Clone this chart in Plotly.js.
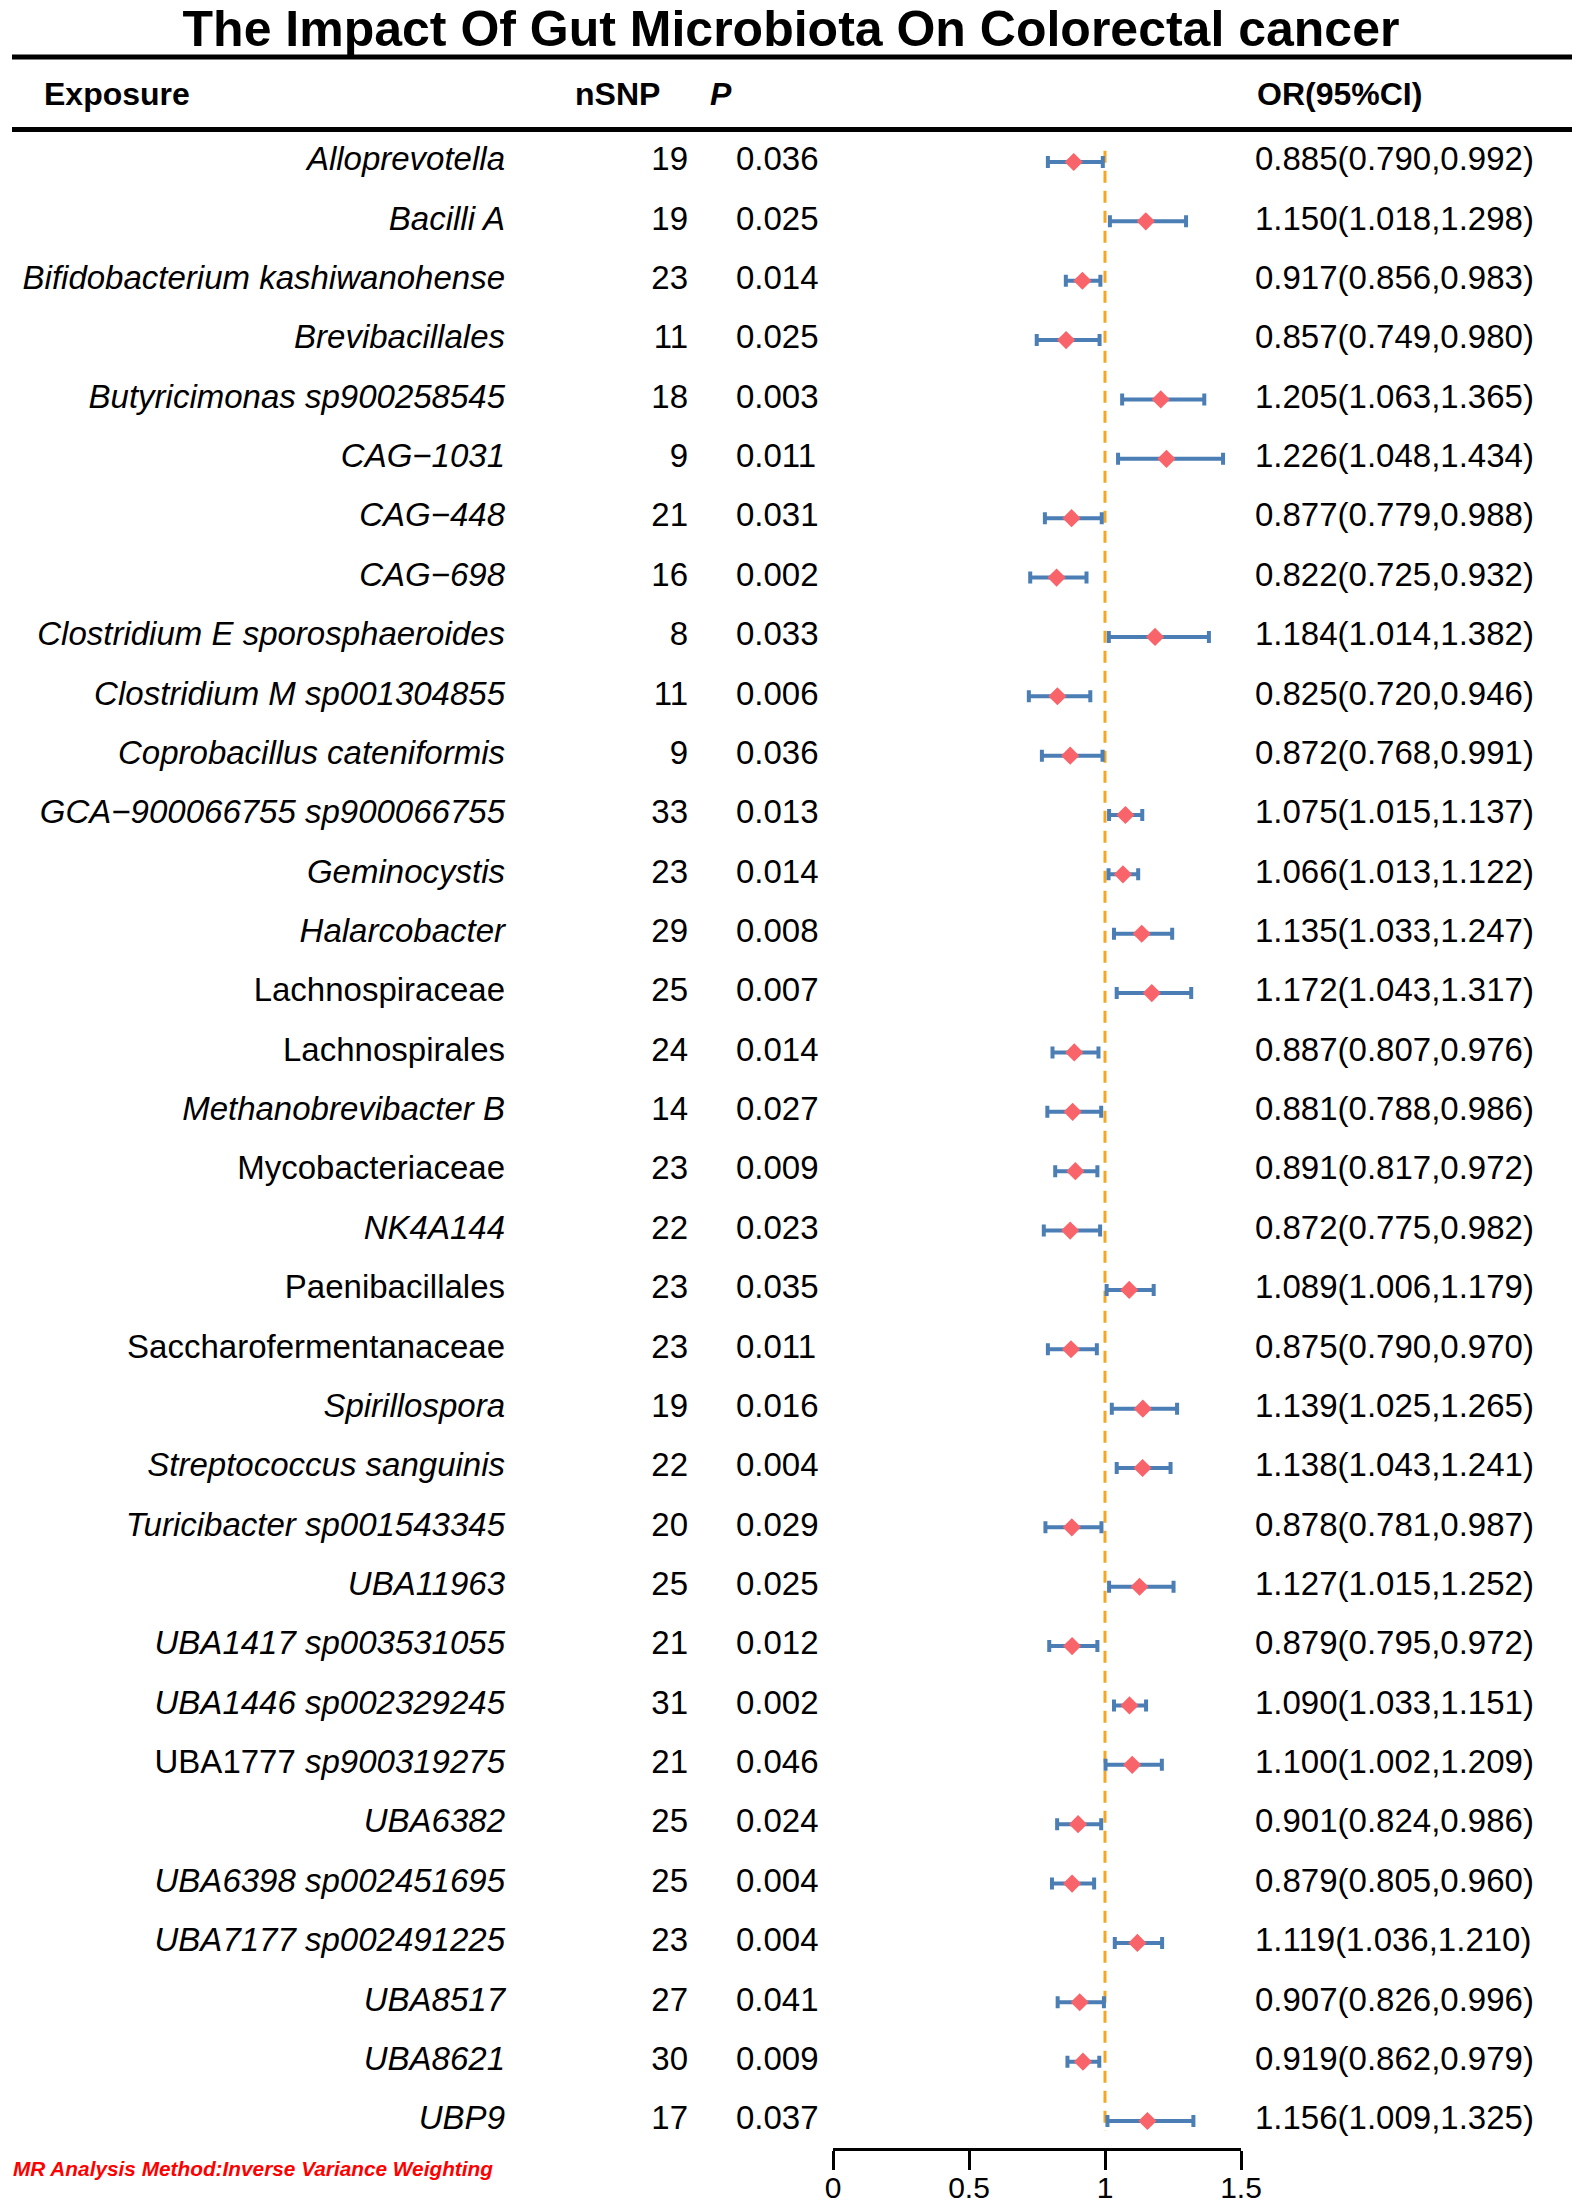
<!DOCTYPE html>
<html>
<head>
<meta charset="utf-8">
<script src="https://cdn.plot.ly/plotly-3.0.1.min.js"></script>
<style>html,body{margin:0;padding:0;background:#fff;}#chart{width:1582px;height:2206px;}</style>
</head>
<body>
<div id="chart"></div>
<script>
// ---------------- data ----------------
const exposures = [
  "Alloprevotella","Bacilli A","Bifidobacterium kashiwanohense","Brevibacillales",
  "Butyricimonas sp900258545","CAG\u22121031","CAG\u2212448","CAG\u2212698",
  "Clostridium E sporosphaeroides","Clostridium M sp001304855","Coprobacillus cateniformis",
  "GCA\u2212900066755 sp900066755","Geminocystis","Halarcobacter","Lachnospiraceae",
  "Lachnospirales","Methanobrevibacter B","Mycobacteriaceae","NK4A144","Paenibacillales",
  "Saccharofermentanaceae","Spirillospora","Streptococcus sanguinis","Turicibacter sp001543345",
  "UBA11963","UBA1417 sp003531055","UBA1446 sp002329245","UBA1777 sp900319275","UBA6382",
  "UBA6398 sp002451695","UBA7177 sp002491225","UBA8517","UBA8621","UBP9"
];
const nsnp = [19,19,23,11,18,9,21,16,8,11,9,33,23,29,25,24,14,23,22,23,23,19,22,20,25,21,31,21,25,25,23,27,30,17];
const pval = [0.036,0.025,0.014,0.025,0.003,0.011,0.031,0.002,0.033,0.006,0.036,0.013,0.014,0.008,0.007,0.014,0.027,0.009,0.023,0.035,0.011,0.016,0.004,0.029,0.025,0.012,0.002,0.046,0.024,0.004,0.004,0.041,0.009,0.037];
const orVal = [0.885,1.150,0.917,0.857,1.205,1.226,0.877,0.822,1.184,0.825,0.872,1.075,1.066,1.135,1.172,0.887,0.881,0.891,0.872,1.089,0.875,1.139,1.138,0.878,1.127,0.879,1.090,1.100,0.901,0.879,1.119,0.907,0.919,1.156];
const ciLow = [0.790,1.018,0.856,0.749,1.063,1.048,0.779,0.725,1.014,0.720,0.768,1.015,1.013,1.033,1.043,0.807,0.788,0.817,0.775,1.006,0.790,1.025,1.043,0.781,1.015,0.795,1.033,1.002,0.824,0.805,1.036,0.826,0.862,1.009];
const ciHigh = [0.992,1.298,0.983,0.980,1.365,1.434,0.988,0.932,1.382,0.946,0.991,1.137,1.122,1.247,1.317,0.976,0.986,0.972,0.982,1.179,0.970,1.265,1.241,0.987,1.252,0.972,1.151,1.209,0.986,0.960,1.210,0.996,0.979,1.325];
const xTicks = [0, 0.5, 1, 1.5];
const xTickText = ["0","0.5","1","1.5"];
const headers = ["Exposure","nSNP","<i>P</i>","OR(95%CI)"];
const titleText = "The Impact Of Gut Microbiota On Colorectal cancer";
const footnote = "MR Analysis Method:Inverse Variance Weighting";

// ---------------- styling ----------------
const uprightNames = new Set(["Lachnospiraceae","Lachnospirales","Mycobacteriaceae","Paenibacillales","Saccharofermentanaceae"]);
const partialItalic = {"UBA1777 sp900319275": "UBA1777 <i>sp900319275</i>"};
const FONT = "Liberation Sans, Arial, Helvetica, sans-serif";
const W = 1582, H = 2206;
const rowTop = 162, rowBottom = 2121;
const n = exposures.length;
const step = (rowBottom - rowTop) / (n - 1);
const yTopVal = -rowTop / step;
const yBotVal = (H - rowTop) / step;
const px = v => v / W;           // horizontal pixel -> paper
const py = v => 1 - v / H;       // vertical pixel -> paper

const idx = exposures.map((_, i) => i);
const labelText = exposures.map(e => partialItalic[e] ? partialItalic[e] : (uprightNames.has(e) ? e : "<i>" + e + "</i>"));
const orText = orVal.map((v, i) => v.toFixed(3) + "(" + ciLow[i].toFixed(3) + "," + ciHigh[i].toFixed(3) + ")");
const pText = pval.map(v => v.toFixed(3));
const txtFont = {family: FONT, size: 33, color: "#000"};

function textTrace(xpix, texts, pos) {
  return {
    type: "scatter", mode: "text", xaxis: "x2", yaxis: "y",
    x: idx.map(() => xpix), y: idx, text: texts, textposition: pos,
    textfont: txtFont, marker: {size: 1}, hoverinfo: "skip", showlegend: false, cliponaxis: false
  };
}

const traces = [
  textTrace(505, labelText, "middle left"),
  textTrace(688, nsnp.map(String), "middle left"),
  textTrace(736, pText, "middle right"),
  textTrace(1255, orText, "middle right"),
  {
    type: "scatter", mode: "markers", xaxis: "x", yaxis: "y",
    x: orVal, y: idx,
    marker: {symbol: "diamond", size: 14, color: "#F8646A", line: {width: 0}},
    error_x: {
      type: "data", symmetric: false,
      array: orVal.map((v, i) => ciHigh[i] - v),
      arrayminus: orVal.map((v, i) => v - ciLow[i]),
      color: "#4A7EB5", thickness: 4, width: 6
    },
    hoverinfo: "skip", showlegend: false, cliponaxis: false
  }
];

const headerX = [42, 573, 708, 1255];
const annotations = headers.map((h, i) => ({
  text: "<b>" + h + "</b>", xref: "paper", yref: "paper", x: px(headerX[i]), y: py(94),
  xanchor: "left", yanchor: "middle", showarrow: false,
  font: {family: FONT, size: 32, color: "#000"}
}));
annotations.push({
  text: "<b><i>" + footnote + "</i></b>", xref: "paper", yref: "paper", x: px(11), y: py(2168),
  xanchor: "left", yanchor: "middle", showarrow: false,
  font: {family: FONT, size: 20.8, color: "#FF0000"}
});

const shapes = [
  {type: "line", xref: "paper", yref: "paper", x0: px(12), x1: px(1572), y0: py(57), y1: py(57), line: {color: "#000", width: 5}},
  {type: "line", xref: "paper", yref: "paper", x0: px(12), x1: px(1572), y0: py(129.5), y1: py(129.5), line: {color: "#000", width: 5}},
  {type: "line", xref: "x", yref: "y", x0: 1, x1: 1, y0: -0.19, y1: n - 1 + 0.17, layer: "below",
   line: {color: "#F5A623", width: 3, dash: "12px,8px"}}
];

const layout = {
  width: W, height: H, autosize: false,
  margin: {l: 0, r: 0, t: 0, b: 0, pad: 0},
  paper_bgcolor: "#fff", plot_bgcolor: "rgba(0,0,0,0)",
  title: {text: "<b>" + titleText + "</b>", x: 0.5, xanchor: "center", xref: "paper",
          y: py(28), yanchor: "middle", yref: "paper",
          font: {family: FONT, size: 50, color: "#000"}},
  xaxis: {domain: [px(833), px(1241)], range: [0, 1.5], anchor: "free", position: 1 - 2149 / H,
          showgrid: false, zeroline: false, showline: true, linecolor: "#000", linewidth: 3,
          ticks: "outside", ticklen: 19, tickwidth: 3, tickcolor: "#000", ticklabelstandoff: -8,
          tickvals: xTicks, ticktext: xTickText, tickfont: {family: FONT, size: 30, color: "#000"}, fixedrange: true},
  xaxis2: {domain: [0, 1], range: [0, W], anchor: "y", visible: false, showgrid: false, zeroline: false, fixedrange: true},
  yaxis: {domain: [0, 1], range: [yBotVal, yTopVal], visible: false, showgrid: false, zeroline: false, fixedrange: true},
  annotations: annotations, shapes: shapes, showlegend: false
};

Plotly.newPlot("chart", traces, layout, {staticPlot: true, displayModeBar: false});
</script>
</body>
</html>
